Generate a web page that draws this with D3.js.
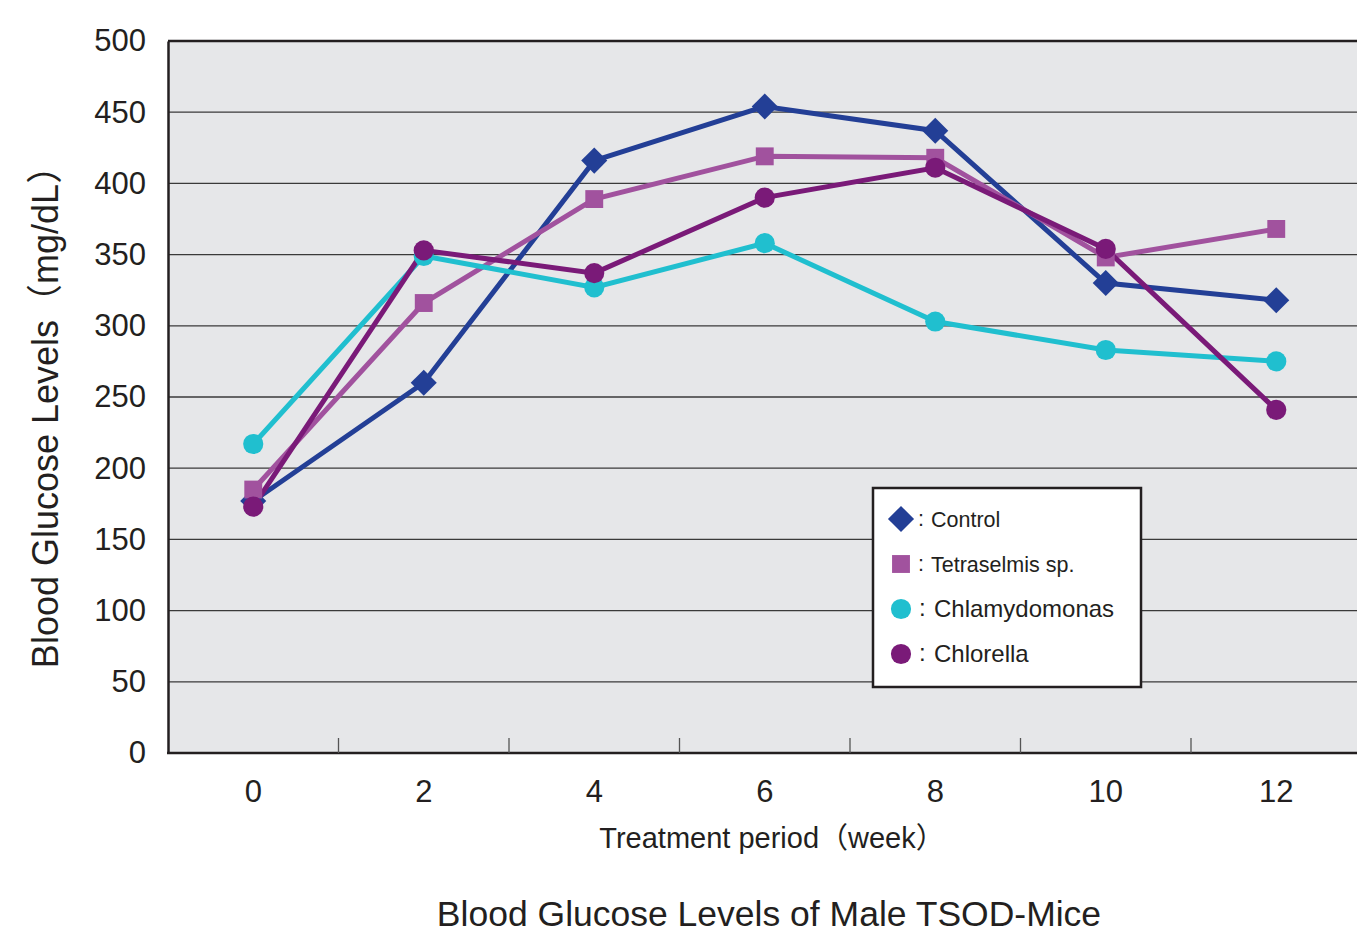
<!DOCTYPE html>
<html>
<head>
<meta charset="utf-8">
<script src="https://cdn.jsdelivr.net/npm/d3@7"></script>
<style>
  body { margin: 0; background: #fff; }
  text { font-family: "Liberation Sans", Arimo, "Noto Sans CJK JP", sans-serif; fill: #231f20; }
</style>
</head>
<body>
<svg id="chart" width="1357" height="931"></svg>
<script>
// data
const weeks = ["0", "2", "4", "6", "8", "10", "12"];
const yTicks = [0, 50, 100, 150, 200, 250, 300, 350, 400, 450, 500];
const control = [177, 260, 416, 454, 437, 330, 318];
const tetraselmis = [185, 316, 389, 419, 418, 348, 368];
const chlamydomonas = [217, 349, 327, 358, 303, 283, 275];
const chlorella = [173, 353, 337, 390, 411, 354, 241];
const seriesNames = ["Control", "Tetraselmis sp.", "Chlamydomonas", "Chlorella"];

const series = [
  {name: seriesNames[0], values: control, color: "#233f96", shape: "diamond"},
  {name: seriesNames[1], values: tetraselmis, color: "#a1529e", shape: "square"},
  {name: seriesNames[2], values: chlamydomonas, color: "#20bfcf", shape: "circle"},
  {name: seriesNames[3], values: chlorella, color: "#7a1a78", shape: "circle"}
];

const svg = d3.select("#chart");
const plotLeft = 168, plotTop = 41, plotBottom = 753;
const bandW = 170.5;
const plotRight = plotLeft + bandW * weeks.length;

const x = d3.scaleBand().domain(weeks).range([plotLeft, plotRight]);
const y = d3.scaleLinear().domain([0, 500]).range([plotBottom, plotTop]);

// plot background
svg.append("rect")
  .attr("x", plotLeft).attr("y", plotTop)
  .attr("width", plotRight - plotLeft).attr("height", plotBottom - plotTop)
  .attr("fill", "#e6e7e9");

// gridlines
svg.append("g").selectAll("line")
  .data(yTicks.filter(d => d > 0))
  .enter().append("line")
  .attr("x1", plotLeft).attr("x2", plotRight)
  .attr("y1", d => y(d)).attr("y2", d => y(d))
  .attr("stroke", d => d === 500 ? "#231f20" : "#3a3a3a")
  .attr("stroke-width", d => d === 500 ? 2.5 : 1.3);

// y axis
const yAxis = svg.append("g")
  .attr("transform", `translate(${plotLeft},0)`)
  .call(d3.axisLeft(y).tickValues(yTicks).tickSize(0).tickPadding(22));
yAxis.select(".domain").attr("stroke", "#231f20").attr("stroke-width", 2.5);
yAxis.selectAll("text")
  .style("font-size", "31px")
  .style("font-family", "'Liberation Sans', Arimo, sans-serif")
  .style("fill", "#231f20");

// x axis
svg.append("line")
  .attr("x1", plotLeft - 1).attr("x2", plotRight)
  .attr("y1", plotBottom).attr("y2", plotBottom)
  .attr("stroke", "#231f20").attr("stroke-width", 2.5);
svg.append("g").selectAll("line")
  .data(weeks.slice(1))
  .enter().append("line")
  .attr("x1", d => x(d)).attr("x2", d => x(d))
  .attr("y1", plotBottom).attr("y2", plotBottom - 15)
  .attr("stroke", "#555").attr("stroke-width", 1.3);
svg.append("g").selectAll("text")
  .data(weeks)
  .enter().append("text")
  .attr("x", d => x(d) + x.bandwidth() / 2)
  .attr("y", 802)
  .attr("text-anchor", "middle")
  .style("font-size", "31px")
  .text(d => d);

// axis titles
svg.append("text")
  .attr("x", 772).attr("y", 848)
  .attr("text-anchor", "middle")
  .style("font-size", "29px")
  .text("Treatment period（week）");
svg.append("text")
  .attr("transform", "translate(58,408) rotate(-90)")
  .attr("text-anchor", "middle")
  .style("font-size", "36px")
  .text("Blood Glucose Levels（mg/dL）");
svg.append("text")
  .attr("x", 769).attr("y", 926)
  .attr("text-anchor", "middle")
  .style("font-size", "35.5px")
  .text("Blood Glucose Levels of Male TSOD-Mice");

// lines and markers
const cx = (d, i) => x(weeks[i]) + x.bandwidth() / 2;
const line = d3.line().x(cx).y(d => y(d));
const symbolPath = shape =>
  shape === "circle" ? d3.symbol().type(d3.symbolCircle).size(320)()
                     : d3.symbol().type(d3.symbolSquare).size(shape === "diamond" ? 340 : 320)();
const rot = shape => shape === "diamond" ? " rotate(45)" : "";

series.forEach(s => {
  svg.append("path")
    .datum(s.values)
    .attr("d", line)
    .attr("fill", "none")
    .attr("stroke", s.color)
    .attr("stroke-width", 5);
});
series.forEach(s => {
  svg.append("g").selectAll("path")
    .data(s.values)
    .enter().append("path")
    .attr("transform", (d, i) => `translate(${cx(d, i)},${y(d)})${rot(s.shape)}`)
    .attr("d", symbolPath(s.shape))
    .attr("fill", s.color);
});

// legend
const lg = svg.append("g").attr("transform", "translate(873,488)");
lg.append("rect")
  .attr("width", 268).attr("height", 199)
  .attr("fill", "#fff").attr("stroke", "#231f20").attr("stroke-width", 2.5);
series.forEach((s, i) => {
  const yy = 31 + i * 45;
  const big = i >= 2;
  lg.append("path")
    .attr("transform", `translate(28,${yy})${rot(s.shape)}`)
    .attr("d", symbolPath(s.shape))
    .attr("fill", s.color);
  lg.append("text")
    .attr("x", big ? 46 : 45).attr("y", yy + 7)
    .style("font-size", big ? "24px" : "21.5px")
    .text(":");
  lg.append("text")
    .attr("x", big ? 61 : 58).attr("y", yy + 8)
    .style("font-size", big ? "24px" : "21.5px")
    .text(s.name);
});
</script>
</body>
</html>
